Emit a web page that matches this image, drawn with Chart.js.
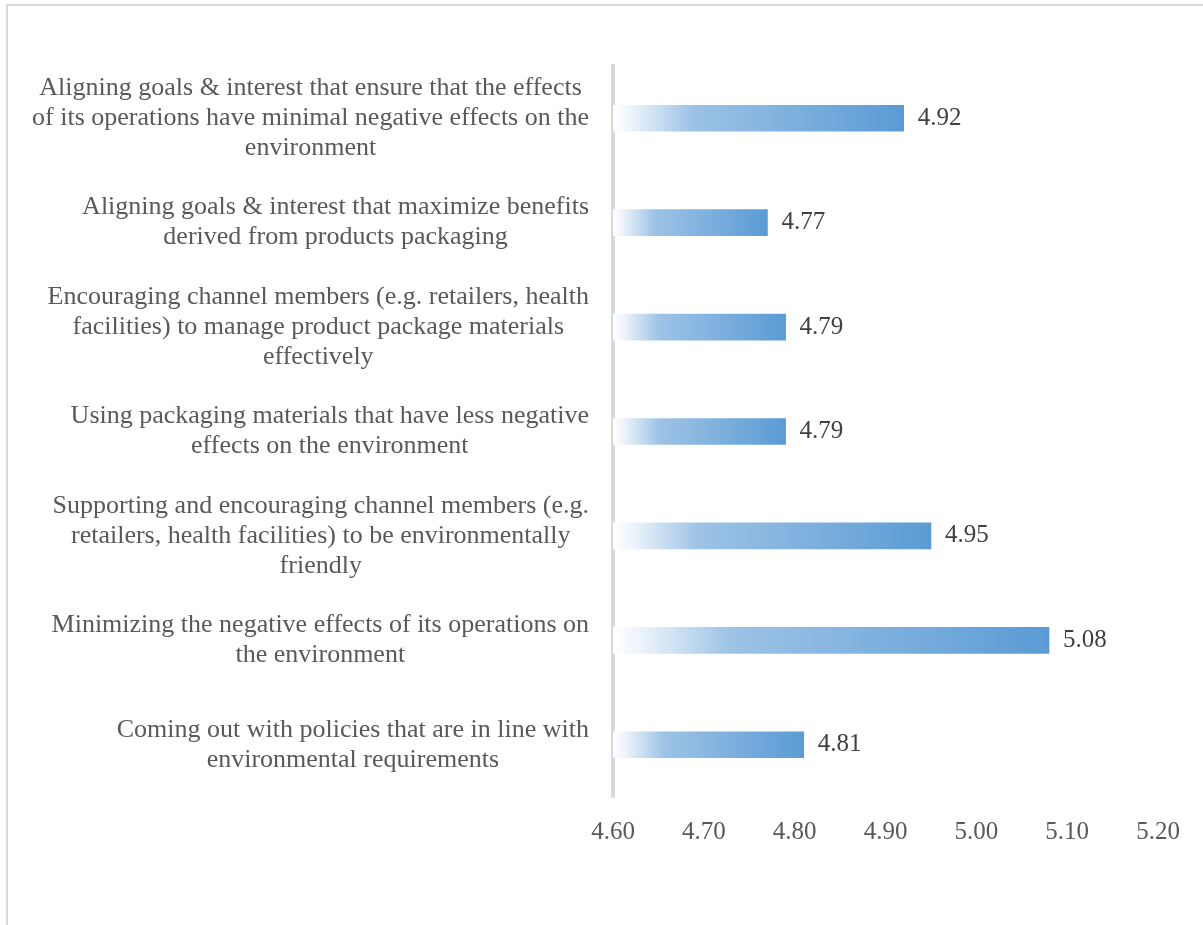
<!DOCTYPE html>
<html>
<head>
<meta charset="utf-8">
<script src="https://cdn.jsdelivr.net/npm/chart.js@4.4.0/dist/chart.umd.min.js"></script>
<style>
    html, body { margin: 0; padding: 0; background: #ffffff; overflow: hidden; }
    #frame { position: absolute; left: 6px; top: 4px; width: 1400px; height: 1100px; border: 2px solid #d9d9d9; }
    #wrap { position: absolute; left: 0; top: 0; width: 1203px; height: 925px; }
</style>
</head>
<body>
<div id="frame"></div>
<div id="wrap"><canvas id="scoreChart" width="1203" height="925"></canvas></div>
<script>
// Category labels (top to bottom), one array entry per line
const categories = [
    ['Aligning goals & interest that ensure that the effects', 'of its operations have minimal negative effects on the', 'environment'],
    ['Aligning goals & interest that maximize benefits', 'derived from products packaging'],
    ['Encouraging channel members (e.g. retailers, health', 'facilities) to manage product package materials', 'effectively'],
    ['Using packaging materials that have less negative', 'effects on the environment'],
    ['Supporting and encouraging channel members (e.g.', 'retailers, health facilities) to be environmentally', 'friendly'],
    ['Minimizing the negative effects of its operations on', 'the environment'],
    ['Coming out with policies that are in line with', 'environmental requirements']
];
const meanScores = [4.92, 4.77, 4.79, 4.79, 4.95, 5.08, 4.81];

// Axis range
const axisMin = 4.60;
const axisMax = 5.20;
const axisStep = 0.10;

const FONT = '"Liberation Serif", "Times New Roman", serif';

// bar fill: white fading into blue along each bar
function barGradient(context) {
    const chart = context.chart;
    if (!chart.chartArea) return '#5b9bd5';
    const x = chart.scales.x;
    const x0 = x.getPixelForValue(axisMin);
    const x1 = x.getPixelForValue(context.raw);
    const g = chart.ctx.createLinearGradient(x0, 0, x1, 0);
    g.addColorStop(0, '#ffffff');
    g.addColorStop(0.06, '#eef4fb');
    g.addColorStop(0.27, '#9dc3e6');
    g.addColorStop(1, '#5b9bd5');
    return g;
}

// draws the wrapped category labels and the value labels
const textPlugin = {
    id: 'textPlugin',
    afterDatasetsDraw(chart) {
        const ctx = chart.ctx;
        const y = chart.scales.y;
        const x = chart.scales.x;
        const lineH = 30;
        const rightEdge = 589;
        ctx.save();
        ctx.textBaseline = 'middle';

        categories.forEach((lines, i) => {
            const cy = y.getPixelForValue(i);
            ctx.font = '26px ' + FONT;
            ctx.fillStyle = '#595959';
            ctx.textAlign = 'center';
            const maxW = Math.max(...lines.map(l => ctx.measureText(l).width));
            const cx = rightEdge - maxW / 2;
            const startY = cy - (lines.length - 1) * lineH / 2;
            lines.forEach((l, j) => ctx.fillText(l, cx, startY + j * lineH));

            // value label
            ctx.font = '25px ' + FONT;
            ctx.fillStyle = '#404040';
            ctx.textAlign = 'left';
            ctx.fillText(meanScores[i].toFixed(2), x.getPixelForValue(meanScores[i]) + 14, cy);
        });
        ctx.restore();
    }
};

const ctx = document.getElementById('scoreChart').getContext('2d');
new Chart(ctx, {
    type: 'bar',
    data: {
        labels: categories,
        datasets: [{
            data: meanScores,
            base: axisMin,
            backgroundColor: barGradient,
            borderWidth: 0,
            barThickness: 26
        }]
    },
    options: {
        indexAxis: 'y',
        responsive: false,
        animation: false,
        layout: { padding: { top: 66, right: 45, left: 0, bottom: 0 } },
        plugins: {
            legend: { display: false },
            tooltip: { enabled: false }
        },
        scales: {
            x: {
                min: axisMin,
                max: axisMax,
                grid: { display: false, drawTicks: false },
                border: { display: false },
                ticks: {
                    stepSize: axisStep,
                    padding: 20,
                    color: '#595959',
                    font: { family: FONT, size: 25 },
                    callback: v => Number(v).toFixed(2)
                },
                afterFit: scale => { scale.height = 128; }
            },
            y: {
                z: 1,
                grid: { display: false, drawTicks: false },
                border: { display: true, color: '#d9d9d9', width: 4 },
                ticks: { display: false },
                afterFit: scale => { scale.width = 613; }
            }
        }
    },
    plugins: [textPlugin]
});
</script>
</body>
</html>
